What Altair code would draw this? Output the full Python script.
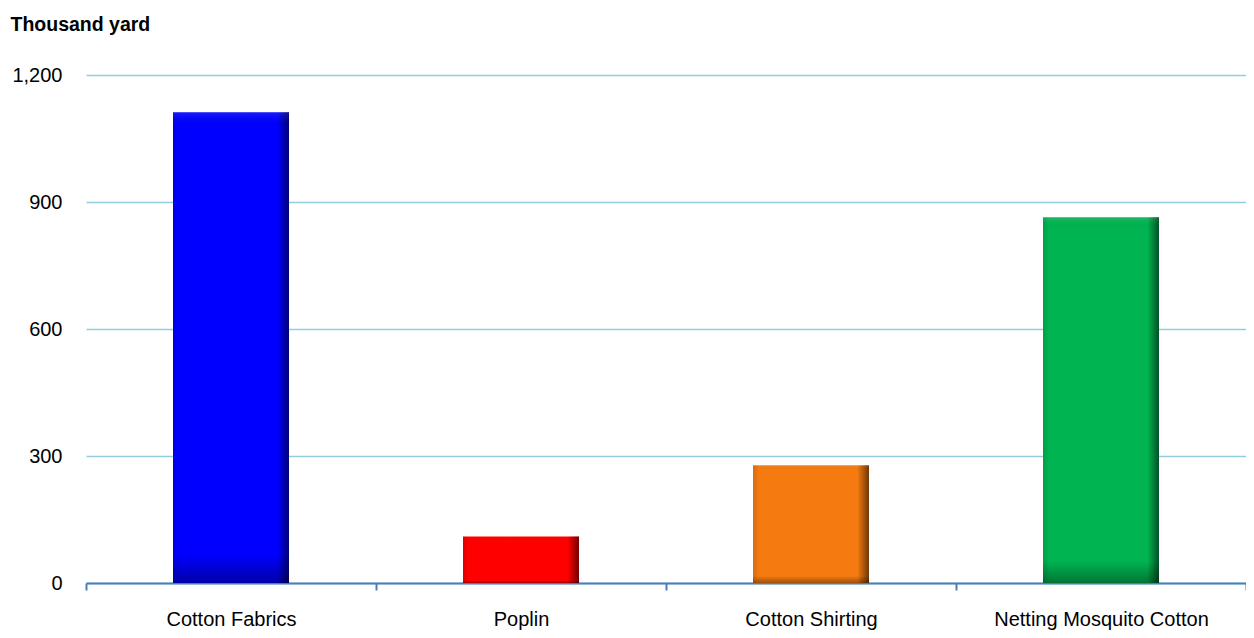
import altair as alt
import pandas as pd

categories = ["Cotton Fabrics", "Poplin", "Cotton Shirting", "Netting Mosquito Cotton"]
values = [1112, 110, 278, 864]
colors = ["#0000FF", "#FF0000", "#F57A0F", "#00B451"]
y_ticks = [0, 300, 600, 900, 1200]

df = pd.DataFrame({"category": categories, "value": values})

FONT = "Liberation Sans"

x_enc = alt.X(
    "category:N",
    sort=categories,
    scale=alt.Scale(paddingInner=0, paddingOuter=0),
    axis=alt.Axis(
        title=None,
        labelAngle=0,
        tickBand="extent",
        domainColor="#4A7EBB",
        domainWidth=2,
        tickColor="#4A7EBB",
        tickWidth=2,
        tickSize=7,
        labelFont=FONT,
        labelFontSize=20,
        labelColor="black",
        labelPadding=19,
        labelLimit=0,
        grid=False,
    ),
)

y_enc = alt.Y(
    "value:Q",
    scale=alt.Scale(domain=[0, 1200]),
    axis=alt.Axis(
        values=y_ticks,
        format=",d",
        domain=False,
        ticks=False,
        gridColor="#93CDDD",
        gridWidth=1.5,
        labelPadding=24,
        labelFont=FONT,
        labelFontSize=20,
        labelColor="black",
        title="Thousand yard",
        titleAngle=0,
        titleX=-76,
        titleY=-45,
        titleAlign="left",
        titleBaseline="alphabetic",
        titleFont=FONT,
        titleFontSize=19.5,
        titleFontWeight="bold",
        titleColor="black",
    ),
)

base = alt.Chart(df).mark_bar(width=alt.RelativeBandSize(0.4)).encode(
    x=x_enc,
    y=y_enc,
    color=alt.Color("category:N", sort=categories,
                    scale=alt.Scale(domain=categories, range=colors), legend=None),
)

h_grad = alt.Gradient(
    gradient="linear", x1=0, y1=0, x2=1, y2=0,
    stops=[
        alt.GradientStop(color="rgba(0,0,0,0.12)", offset=0),
        alt.GradientStop(color="rgba(0,0,0,0)", offset=0.05),
        alt.GradientStop(color="rgba(0,0,0,0)", offset=0.9),
        alt.GradientStop(color="rgba(0,0,0,0.55)", offset=1),
    ],
)
v_grad = alt.Gradient(
    gradient="linear", x1=0, y1=0, x2=0, y2=1,
    stops=[
        alt.GradientStop(color="rgba(255,255,255,0.1)", offset=0),
        alt.GradientStop(color="rgba(0,0,0,0)", offset=0.03),
        alt.GradientStop(color="rgba(0,0,0,0)", offset=0.94),
        alt.GradientStop(color="rgba(0,0,0,0.35)", offset=1),
    ],
)

over_h = alt.Chart(df).mark_bar(width=alt.RelativeBandSize(0.4), fill=h_grad).encode(
    x=alt.X("category:N", sort=categories), y=alt.Y("value:Q")
)
over_v = alt.Chart(df).mark_bar(width=alt.RelativeBandSize(0.4), fill=v_grad).encode(
    x=alt.X("category:N", sort=categories), y=alt.Y("value:Q")
)

chart = alt.layer(base, over_h, over_v).properties(
    width=1160,
    height=508,
    autosize=alt.AutoSizeParams(type="none"),
    padding={"left": 78, "top": 67, "right": 0, "bottom": 47},
).configure_view(stroke=None)

chart.save("out.html", embed_options={"renderer": "svg", "actions": False})
